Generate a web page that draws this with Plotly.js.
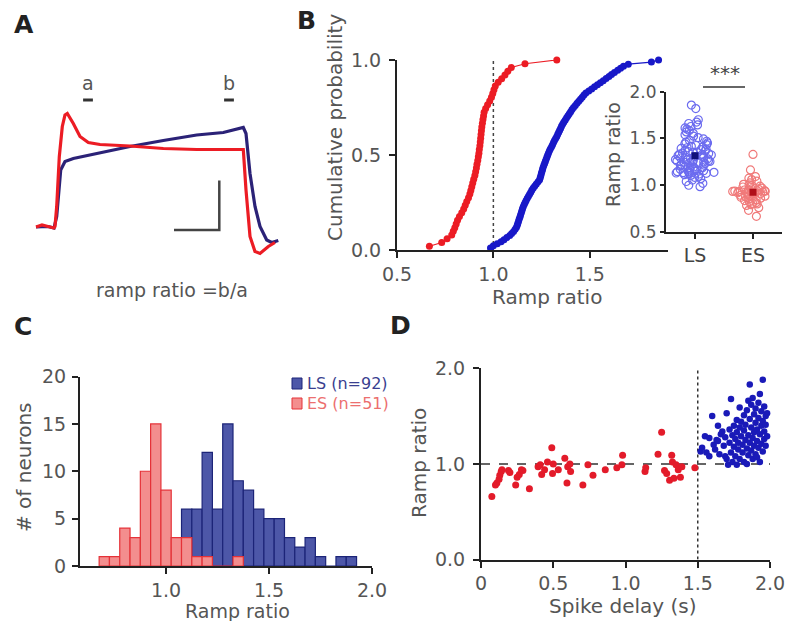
<!DOCTYPE html>
<html><head><meta charset="utf-8">
<script src="https://cdn.plot.ly/plotly-3.0.1.min.js"></script>
<style>html,body{margin:0;padding:0;background:#fff}#chart{width:788px;height:621px}</style>
</head><body><div id="chart"></div>
<script>
// ---------- Panel A: example voltage traces (time ms, membrane potential mV) ----------
const timeES_A = [-170,-110,-50,10,20,37,63,93,120,143,203,270,353,470,770,1103,1437,1887,1903,1930,1970,2020,2070,2153,2220];
const vmES_A   = [-74.8,-74.4,-74.7,-75.0,-74.7,-70.7,-60.7,-54.7,-52.4,-52.1,-54.1,-56.7,-57.9,-58.3,-58.6,-59.1,-59.3,-59.3,-59.3,-67.4,-76.7,-79.7,-80.1,-78.7,-77.9];
const timeLS_A = [-170,-50,10,37,77,120,203,437,770,1103,1437,1703,1903,1930,1970,2020,2070,2137,2187,2253];
const vmLS_A   = [-74.8,-74.7,-75.0,-72.7,-63.4,-61.7,-61.1,-60.1,-58.7,-57.5,-56.4,-55.9,-54.9,-56.1,-64.1,-70.7,-74.7,-77.4,-77.9,-77.5];
const windowTime = [350,1760];           // "a" and "b" measurement windows
const windowLabels = ['a','b'];
const scaleBarTime = [1210,1663,1663];
const scaleBarVm   = [-75.4,-75.4,-65.5];

// ---------- Panel B: ramp ratios (sorted) ----------
const rampES = [0.668,0.732,0.76,0.784,0.792,0.8,0.807,0.814,0.824,0.836,0.846,0.854,0.862,0.871,0.878,0.883,0.888,0.893,0.898,0.904,0.908,0.912,0.915,0.919,0.922,0.925,0.927,0.93,0.932,0.934,0.936,0.938,0.94,0.943,0.946,0.949,0.952,0.96,0.97,0.981,0.99,0.997,1.003,1.01,1.025,1.043,1.06,1.075,1.093,1.164,1.329];
const rampLS = [0.985,1.0,1.02,1.04,1.055,1.07,1.085,1.095,1.105,1.113,1.12,1.124,1.127,1.131,1.134,1.138,1.141,1.145,1.148,1.151,1.155,1.16,1.165,1.17,1.176,1.182,1.188,1.194,1.2,1.207,1.215,1.223,1.232,1.24,1.243,1.246,1.249,1.252,1.255,1.258,1.262,1.266,1.27,1.274,1.278,1.282,1.286,1.291,1.296,1.302,1.307,1.312,1.317,1.323,1.329,1.334,1.339,1.344,1.349,1.354,1.36,1.366,1.373,1.38,1.387,1.394,1.401,1.408,1.416,1.425,1.434,1.443,1.452,1.461,1.47,1.48,1.495,1.51,1.525,1.54,1.555,1.57,1.585,1.6,1.613,1.628,1.645,1.66,1.675,1.7,1.82,1.857];
const groupNames = ['LS','ES'];

// ---------- Panel C: histogram counts (bin centres, width 0.05) ----------
const binCentersLS = [1.00,1.05,1.10,1.15,1.20,1.25,1.30,1.35,1.40,1.45,1.50,1.55,1.60,1.65,1.70,1.75,1.80,1.85,1.90];
const countsLS     = [1,2,6,6,12,6,15,9,8,6,5,5,3,2,3,1,0,1,1];
const binCentersES = [0.70,0.75,0.80,0.85,0.90,0.95,1.00,1.05,1.10,1.15,1.20,1.25,1.30,1.35];
const countsES     = [1,1,4,3,10,15,8,3,3,1,1,0,0,1];
const legendLS = 'LS (n=92)';
const legendES = 'ES (n=51)';

// ---------- Panel D: spike delay vs ramp ratio ----------
const delayES = [0.075,0.10,0.11,0.125,0.13,0.14,0.145,0.19,0.20,0.24,0.25,0.265,0.28,0.29,0.335,0.395,0.41,0.42,0.44,0.46,0.49,0.495,0.50,0.535,0.58,0.595,0.60,0.615,0.62,0.705,0.74,0.775,0.86,0.94,0.975,0.98,1.135,1.14,1.225,1.25,1.27,1.285,1.305,1.32,1.325,1.335,1.35,1.365,1.38,1.39,1.48];
const ratioES_D = [0.66,0.78,0.80,0.84,0.88,0.92,0.94,0.93,0.91,0.78,0.86,0.89,0.94,0.93,0.74,0.97,0.99,0.89,0.94,1.02,1.17,0.90,1.00,0.94,1.06,0.80,0.97,1.00,0.92,0.78,0.99,0.88,0.94,0.96,0.99,1.09,0.92,0.96,1.10,1.33,0.93,0.90,0.83,1.09,1.02,0.85,0.99,0.94,0.86,0.97,0.96];
const delayLS = [1.52,1.53,1.55,1.56,1.58,1.60,1.61,1.62,1.63,1.64,1.65,1.66,1.67,1.68,1.69,1.70,1.70,1.71,1.72,1.72,1.73,1.73,1.74,1.74,1.75,1.75,1.76,1.76,1.77,1.77,1.78,1.78,1.79,1.79,1.79,1.80,1.80,1.81,1.81,1.82,1.82,1.82,1.83,1.83,1.84,1.84,1.85,1.85,1.86,1.86,1.86,1.87,1.87,1.87,1.88,1.88,1.88,1.89,1.89,1.89,1.90,1.90,1.90,1.91,1.91,1.92,1.92,1.92,1.93,1.93,1.93,1.94,1.94,1.94,1.95,1.95,1.95,1.96,1.96,1.96,1.97,1.97,1.97,1.98,1.98,1.84,1.77,1.69,1.64,1.58,1.91,1.85];
const ratioLS_D = [1.13,1.17,1.29,1.12,1.08,1.50,1.20,1.15,1.25,1.24,1.10,1.31,1.34,1.19,1.28,1.53,1.05,0.99,1.22,1.36,1.68,1.12,1.30,1.02,1.40,1.18,1.26,1.08,1.46,1.33,1.15,1.22,1.59,1.38,1.05,1.29,1.44,1.12,1.20,1.51,1.35,1.02,1.25,1.41,1.56,1.16,1.30,1.09,1.83,1.47,1.22,1.62,1.38,1.14,1.69,1.27,1.05,1.52,1.33,1.19,1.58,1.43,1.10,1.36,1.24,1.64,1.48,1.17,1.73,1.31,1.02,1.55,1.40,1.21,1.88,1.45,1.13,1.34,1.60,1.26,1.50,1.19,1.41,1.53,1.29,1.00,0.99,1.08,1.40,1.27,1.07,1.66];

// ---------- helpers ----------
const W = 788, H = 621;
const X = px => px / W;
const Y = py => 1 - py / H;
const FONT = 'DejaVu Sans, Liberation Sans, Arial, sans-serif';
const RED = '#ec1c24', BLUE = '#1818c8', NAVY = '#2b2277';
const TXT = '#555555';

const cdfY = arr => arr.map((_, i) => (i + 1) / arr.length);
const mean = arr => arr.reduce((a, b) => a + b, 0) / arr.length;
const esSorted = rampES.slice().sort((a, b) => a - b);
const lsSorted = rampLS.slice().sort((a, b) => a - b);

const axisCommon = {
  showline: true, linecolor: '#222', linewidth: 2, ticks: 'outside', ticklen: 6, tickwidth: 2,
  tickcolor: '#222', showgrid: false, zeroline: false, fixedrange: true,
  tickfont: {family: FONT, size: 19, color: TXT}
};

const traces = [
  // A
  {x: timeLS_A, y: vmLS_A, xaxis: 'x', yaxis: 'y', mode: 'lines', line: {color: NAVY, width: 3.2}, showlegend: false},
  {x: timeES_A, y: vmES_A, xaxis: 'x', yaxis: 'y', mode: 'lines', line: {color: RED, width: 3.2}, showlegend: false},
  {x: windowTime, y: [-49.4, -49.4], xaxis: 'x', yaxis: 'y', mode: 'markers',
   marker: {symbol: 'line-ew-open', size: 7, color: '#333', line: {width: 3, color: '#333'}}, showlegend: false, cliponaxis: false},
  {x: scaleBarTime, y: scaleBarVm, xaxis: 'x', yaxis: 'y', mode: 'lines', line: {color: '#444', width: 2.5}, showlegend: false},
  // B main
  {x: [1, 1], y: [0, 1], xaxis: 'x2', yaxis: 'y2', mode: 'lines', line: {color: '#444', width: 1.5, dash: 'dot'}, showlegend: false},
  {x: esSorted, y: cdfY(esSorted), xaxis: 'x2', yaxis: 'y2', mode: 'lines+markers', cliponaxis: false,
   line: {color: RED, width: 1.2}, marker: {color: RED, size: 7}, showlegend: false},
  {x: lsSorted, y: cdfY(lsSorted), xaxis: 'x2', yaxis: 'y2', mode: 'lines+markers', cliponaxis: false,
   line: {color: BLUE, width: 1.2}, marker: {color: BLUE, size: 7}, showlegend: false},
  // B inset
  {type: 'box', y: rampLS, x0: groupNames[0], xaxis: 'x3', yaxis: 'y3', boxpoints: 'all', jitter: 1, pointpos: 0, width: 0.75,
   fillcolor: 'rgba(0,0,0,0)', line: {color: 'rgba(0,0,0,0)', width: 0}, whiskerwidth: 0,
   marker: {symbol: 'circle-open', size: 8, color: '#6b6bef', line: {width: 1.2}}, showlegend: false, hoverinfo: 'skip'},
  {type: 'box', y: rampES, x0: groupNames[1], xaxis: 'x3', yaxis: 'y3', boxpoints: 'all', jitter: 1, pointpos: 0, width: 0.75,
   fillcolor: 'rgba(0,0,0,0)', line: {color: 'rgba(0,0,0,0)', width: 0}, whiskerwidth: 0,
   marker: {symbol: 'circle-open', size: 8, color: '#f07a7a', line: {width: 1.2}}, showlegend: false, hoverinfo: 'skip'},
  {x: groupNames, y: [mean(rampLS), mean(rampES)], xaxis: 'x3', yaxis: 'y3', mode: 'markers',
   marker: {symbol: 'square', size: 7, color: ['#10107a', '#b0101a']}, showlegend: false},
  // C
  {type: 'bar', x: binCentersLS, y: countsLS, width: 0.05, xaxis: 'x4', yaxis: 'y4',
   marker: {color: '#4d57a8', line: {color: '#1c2478', width: 1.2}}, showlegend: false},
  {type: 'bar', x: binCentersES, y: countsES, width: 0.05, xaxis: 'x4', yaxis: 'y4',
   marker: {color: '#f38e8e', line: {color: '#e53238', width: 1.2}}, showlegend: false},
  // D
  {x: [0, 2], y: [1, 1], xaxis: 'x5', yaxis: 'y5', mode: 'lines', line: {color: '#333', width: 1.5, dash: 'dash'}, showlegend: false},
  {x: [1.5, 1.5], y: [0, 2], xaxis: 'x5', yaxis: 'y5', mode: 'lines', line: {color: '#333', width: 1.5, dash: 'dot'}, showlegend: false},
  {x: delayES, y: ratioES_D, xaxis: 'x5', yaxis: 'y5', mode: 'markers', marker: {color: '#e31b2a', size: 7}, showlegend: false, cliponaxis: false},
  {x: delayLS, y: ratioLS_D, xaxis: 'x5', yaxis: 'y5', mode: 'markers', marker: {color: '#1a1ab8', size: 6.5}, showlegend: false, cliponaxis: false}
];

const ann = (px, py, text, size, extra) => Object.assign({
  xref: 'paper', yref: 'paper', x: X(px), y: Y(py), text: text, showarrow: false,
  xanchor: 'center', yanchor: 'middle', font: {family: FONT, size: size, color: TXT}
}, extra || {});

const annotations = [
  ann(24, 25, '<b>A</b>', 25, {font: {family: FONT, size: 25, color: '#222'}}),
  ann(306, 20, '<b>B</b>', 25, {font: {family: FONT, size: 25, color: '#222'}}),
  ann(23, 326, '<b>C</b>', 25, {font: {family: FONT, size: 25, color: '#222'}}),
  ann(400, 325, '<b>D</b>', 25, {font: {family: FONT, size: 25, color: '#222'}}),
  {xref: 'x', yref: 'paper', x: windowTime[0], y: Y(70), text: windowLabels[0], showarrow: false, font: {family: FONT, size: 19, color: TXT}},
  {xref: 'x', yref: 'paper', x: windowTime[1], y: Y(70), text: windowLabels[1], showarrow: false, font: {family: FONT, size: 19, color: TXT}},
  ann(172, 290, 'ramp ratio =b/a', 19),
  ann(335, 128, 'Cumulative probability', 20, {textangle: -90}),
  ann(547, 297, 'Ramp ratio', 20),
  ann(613, 155, 'Ramp ratio', 19, {textangle: -90}),
  ann(725, 73, '***', 20, {font: {family: FONT, size: 20, color: '#444'}}),
  ann(24, 467, '# of neurons', 20, {textangle: -90}),
  ann(237, 611, 'Ramp ratio', 19),
  ann(419, 463, 'Ramp ratio', 20, {textangle: -90}),
  ann(623, 606, 'Spike delay (s)', 20),
  ann(305, 383, legendLS, 16, {xanchor: 'left', font: {family: FONT, size: 16, color: '#3a3f90'}}),
  ann(305, 403, legendES, 16, {xanchor: 'left', font: {family: FONT, size: 16, color: '#ec6f6f'}})
];

const shapes = [
  {type: 'line', xref: 'paper', yref: 'paper', x0: X(703), x1: X(745), y0: Y(87), y1: Y(87), line: {color: '#666', width: 2}},
  {type: 'rect', xref: 'paper', yref: 'paper', x0: X(292), x1: X(302), y0: Y(389), y1: Y(378), fillcolor: '#4d57a8', line: {color: '#1c2478', width: 1}},
  {type: 'rect', xref: 'paper', yref: 'paper', x0: X(292), x1: X(302), y0: Y(409), y1: Y(398), fillcolor: '#f38e8e', line: {color: '#e53238', width: 1}}
];

const layout = {
  width: W, height: H, margin: {l: 0, r: 0, t: 0, b: 0},
  paper_bgcolor: '#fff', plot_bgcolor: 'rgba(0,0,0,0)', hovermode: false, showlegend: false,
  barmode: 'overlay', bargap: 0,
  font: {family: FONT, color: TXT},
  xaxis: {domain: [X(30), X(285)], range: [-230, 2320], visible: false, fixedrange: true},
  yaxis: {domain: [Y(265), Y(95)], range: [-82.4, -48.4], visible: false, fixedrange: true},
  xaxis2: Object.assign({}, axisCommon, {domain: [X(397), X(668)], range: [0.5, 1.906], anchor: 'y2',
    tickvals: [0.5, 1, 1.5], ticktext: ['0.5', '1.0', '1.5']}),
  yaxis2: Object.assign({}, axisCommon, {domain: [Y(250), Y(60)], range: [0, 1], anchor: 'x2',
    tickvals: [0, 0.5, 1], ticktext: ['0.0', '0.5', '1.0'], ticklabelstandoff: 4}),
  xaxis3: Object.assign({}, axisCommon, {domain: [X(666), X(782)], range: [-0.5, 1.5], anchor: 'y3', type: 'category',
    categoryorder: 'array', categoryarray: groupNames, ticklen: 5, tickfont: {family: FONT, size: 19, color: '#444'}}),
  yaxis3: Object.assign({}, axisCommon, {domain: [Y(232), Y(91.7)], range: [0.5, 2.0], anchor: 'x3',
    tickvals: [0.5, 1, 1.5, 2], ticktext: ['0.5', '1.0', '1.5', '2.0'], ticklen: 4, tickfont: {family: FONT, size: 17, color: TXT}}),
  xaxis4: Object.assign({}, axisCommon, {domain: [X(80), X(372)], range: [0.582, 2.0], anchor: 'y4',
    tickvals: [1, 1.5, 2], ticktext: ['1.0', '1.5', '2.0'], ticklabelstandoff: 0}),
  yaxis4: Object.assign({}, axisCommon, {domain: [Y(566), Y(376.5)], range: [0, 20], anchor: 'x4',
    tickvals: [0, 5, 10, 15, 20], ticktext: ['0', '5', '10', '15', '20'], ticklabelstandoff: 2}),
  xaxis5: Object.assign({}, axisCommon, {domain: [X(481), X(770)], range: [0, 2], anchor: 'y5',
    tickvals: [0, 0.5, 1, 1.5, 2], ticktext: ['0', '0.5', '1.0', '1.5', '2.0']}),
  yaxis5: Object.assign({}, axisCommon, {domain: [Y(559.5), Y(368.3)], range: [0, 2], anchor: 'x5',
    tickvals: [0, 1, 2], ticktext: ['0.0', '1.0', '2.0'], ticklabelstandoff: 4}),
  annotations: annotations,
  shapes: shapes
};

Plotly.newPlot('chart', traces, layout, {displayModeBar: false, staticPlot: true});
</script></body></html>
